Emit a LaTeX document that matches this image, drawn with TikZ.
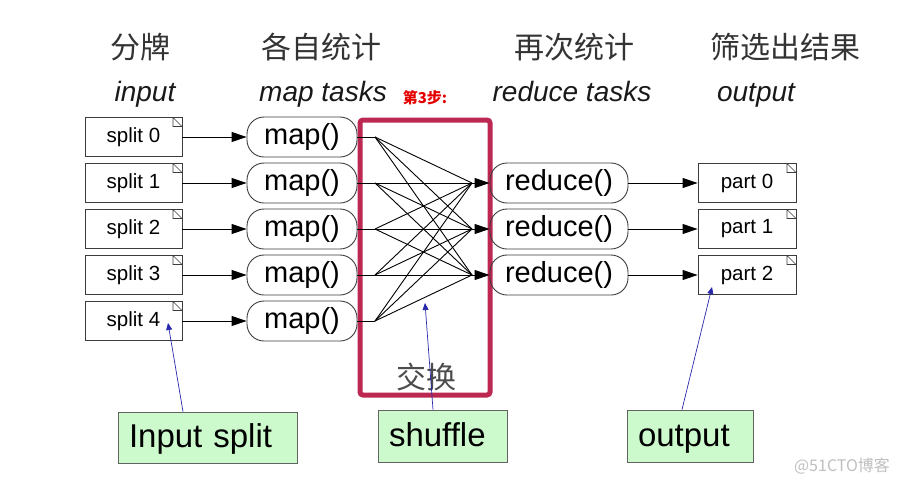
\documentclass[tikz,border=0pt]{standalone}
\usepackage{fontspec}
\setmainfont{Liberation Sans}
\newfontfamily\cjk{Noto Sans CJK SC}
\usetikzlibrary{arrows.meta}
\definecolor{crim}{RGB}{188,40,82}
\definecolor{bluel}{RGB}{40,40,170}
\definecolor{greenf}{RGB}{204,250,204}
\definecolor{edge}{RGB}{60,60,60}
\tikzset{
  fs/.style={font=\fontsize{#1}{#1}\selectfont},
  doc/.style={draw=edge, line width=0.9pt, minimum height=39pt, inner sep=0pt, fs=20.5,
    path picture={\draw[edge, line width=0.6pt]
      ([xshift=-9pt]path picture bounding box.north east) --
      ([xshift=-9pt,yshift=-9pt]path picture bounding box.north east) --
      ([yshift=-9pt]path picture bounding box.north east) -- cycle;}},
  splitbox/.style={doc, minimum width=97pt},
  partbox/.style={doc, minimum width=98pt},
  task/.style={draw=edge, line width=0.9pt, rounded corners=17pt, minimum height=40pt, inner sep=0pt, fs=29},
  tip/.style={-{Triangle[length=15pt,width=10pt]}},
  arr/.style={black, line width=0.9pt, tip},
  fan/.style={black, line width=0.9pt},
  label/.style={draw=edge!80, line width=0.8pt, fill=greenf, inner sep=0pt, inner xsep=11pt, align=left, fs=33, text height=25pt, text depth=5pt},
  pointer/.style={bluel, line width=0.7pt, -{Triangle[length=7pt,width=6pt]}},
  head/.style={fs=30, black!80, inner sep=0pt},
  ihead/.style={font=\fontsize{28}{28}\selectfont\itshape, inner sep=0pt, black!90, anchor=base},
}
\begin{document}
\begin{tikzpicture}[x=1pt,y=-1pt]
\useasboundingbox (0,0) rectangle (901,483);
% headers
\node[head] (h1) at (140,47) {\cjk 分牌};
\node[head] (h2) at (321,47) {\cjk 各自统计};
\node[head] (h3) at (574,47) {\cjk 再次统计};
\node[head] (h4) at (785,47) {\cjk 筛选出结果};
\node[ihead] (i1) at (145,101) {input};
\node[ihead] (i2) at (323,101) {map tasks};
\node[fs=15, text=red!90!black, inner sep=0pt] (step) at (425,98) {\cjk\bfseries 第3步:};
\node[ihead] (i3) at (572,101) {reduce tasks};
\node[ihead] (i4) at (756,101) {output};
% shuffle box
\node[draw=crim, line width=5pt, rounded corners=3pt, minimum width=130pt, minimum height=275pt, inner sep=0pt] (sbox) at (425,257.5) {};
\node[fs=30, text=black!70, inner sep=0pt] (jh) at (426,377) {\cjk 交换};
% splits and maps
\foreach \i/\y in {0/137,1/183,2/229,3/275,4/321}{
  \node[splitbox] (s\i) at (133.5,\y) {split \i};
  \node[task, minimum width=110pt] (m\i) at (302,\y) {map()};
  \coordinate (f\i) at (375,\y);
  \draw[arr] (s\i) -- (m\i);
  \draw[fan] (m\i.east) -- (f\i);
}
% reduces and parts
\foreach \j/\y in {0/183,1/229,2/275}{
  \node[task, minimum width=138pt] (r\j) at (559,\y) {reduce()};
  \node[partbox] (p\j) at (747,\y) {part \j};
  \coordinate (c\j) at (472,\y);
  \draw[arr] (r\j) -- (p\j);
  \draw[arr] (c\j) -- (r\j.west);
}
\foreach \i in {0,...,4}{
  \foreach \j in {0,1,2}{
    \draw[fan] (f\i) -- (c\j);
  }
}
% labels
\node[label, text width=157pt, minimum height=51pt] (l1) at (207.5,437.5) {Input split};
\node[label, text width=107pt, minimum height=52pt] (l2) at (442.5,436) {shuffle};
\node[label, text width=104pt, minimum height=52pt] (l3) at (690,436) {output};
\coordinate (t1) at (168,323);
\coordinate (t2) at (425,303);
\coordinate (t3) at (712,287);
\draw[pointer] (l1.north -| 183,0) -- (t1);
\draw[pointer] (l2.north -| 433,0) -- (t2);
\draw[pointer] (l3.north -| 682,0) -- (t3);
% watermark
\node[fs=16, text=black!25, inner sep=0pt] (wm) at (842,466) {\cjk @51CTO博客};
\end{tikzpicture}
\end{document}
